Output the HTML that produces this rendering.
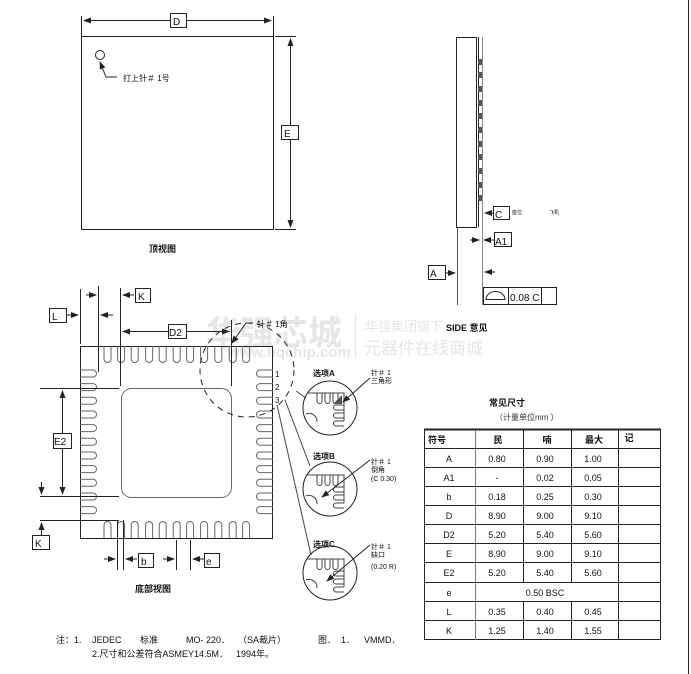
<!DOCTYPE html>
<html><head><meta charset="utf-8"><style>
html,body{margin:0;padding:0;background:#fff;}
svg{display:block;font-family:"Liberation Sans","Noto Sans CJK SC",sans-serif;}
</style></head><body>
<svg width="691" height="674" viewBox="0 0 691 674" xmlns="http://www.w3.org/2000/svg">
<defs>
<marker id="ar" markerWidth="8" markerHeight="6" refX="7" refY="3" orient="auto" markerUnits="userSpaceOnUse"><path d="M0,0 L8,3 L0,6 z" fill="#222"/></marker>
</defs>
<g fill="none" stroke="#222" stroke-width="1">
<!-- TOP VIEW -->
<rect x="81.5" y="36.5" width="192" height="193"/>
<line x1="81.5" y1="16" x2="81.5" y2="36"/><line x1="273.5" y1="16" x2="273.5" y2="36"/>
<line x1="170" y1="20.5" x2="84" y2="20.5" marker-end="url(#ar)"/>
<line x1="186" y1="20.5" x2="271" y2="20.5" marker-end="url(#ar)"/>
<rect x="170.5" y="13.5" width="16" height="14"/>
<line x1="275" y1="36.5" x2="296" y2="36.5"/><line x1="275" y1="229.5" x2="296" y2="229.5"/>
<line x1="290.5" y1="125" x2="290.5" y2="39" marker-end="url(#ar)"/>
<line x1="290.5" y1="139" x2="290.5" y2="227" marker-end="url(#ar)"/>
<rect x="281.5" y="125.5" width="17" height="14"/>
<circle cx="100" cy="55" r="4.5"/>
<polyline points="117,77 106,77 100,62" marker-end="url(#ar)"/>

<!-- SIDE VIEW -->
<rect x="456.5" y="37.5" width="20" height="190"/>
<line x1="478.5" y1="37" x2="478.5" y2="227"/>
<line x1="482.5" y1="37" x2="482.5" y2="305" stroke="#888"/>
<line x1="457.5" y1="228" x2="457.5" y2="305" stroke="#555"/>
<line x1="493" y1="213" x2="485" y2="213" marker-end="url(#ar)"/>
<line x1="470" y1="240" x2="479" y2="240" marker-end="url(#ar)"/>
<line x1="494" y1="240" x2="484" y2="240" marker-end="url(#ar)"/>
<line x1="445" y1="273" x2="455" y2="273" marker-end="url(#ar)"/>
<line x1="495" y1="272" x2="485" y2="272" marker-end="url(#ar)"/>
<rect x="493.5" y="206.5" width="16" height="13"/>
<rect x="494.5" y="232.5" width="17" height="14"/>
<rect x="428.5" y="265.5" width="17" height="14"/>
<rect x="483.5" y="287.5" width="73" height="17"/>
<line x1="508.5" y1="287" x2="508.5" y2="305"/><line x1="541.5" y1="287" x2="541.5" y2="305"/>
<path d="M486,299.5 L505,299.5 A9.5,8 0 0 0 486,299.5 z"/>
</g>
<g fill="#555">
<rect x="478" y="59" width="4" height="6"/><rect x="478" y="72" width="4" height="6"/><rect x="478" y="86" width="4" height="6"/><rect x="478" y="100" width="4" height="6"/><rect x="478" y="113" width="4" height="6"/><rect x="478" y="127" width="4" height="6"/><rect x="478" y="141" width="4" height="6"/><rect x="478" y="154" width="4" height="6"/><rect x="478" y="168" width="4" height="6"/><rect x="478" y="182" width="4" height="6"/><rect x="478" y="195" width="4" height="6"/>
</g>

<!-- watermark -->
<g fill="#e6e6e6">
<text x="206" y="345" font-size="34" font-weight="bold">华强芯城</text>
<text x="228" y="357" font-size="15" font-weight="bold">www.hqchip.com</text>
<text x="365" y="331" font-size="13">华强集团旗下</text>
<text x="364" y="354" font-size="17">元器件在线商城</text>
</g>
<line x1="355.5" y1="314" x2="355.5" y2="357" stroke="#e6e6e6"/>

<!-- BOTTOM VIEW -->
<g fill="none" stroke="#222" stroke-width="1">
<rect x="80.5" y="346.5" width="192" height="192"/>
<rect x="121.5" y="388.5" width="110" height="109" rx="10" stroke="#666"/>
</g>
<g fill="none" stroke="#666">
<g id="toprow">
<path d="M104,346 v13 a3.5,3.5 0 0 0 7,0 v-13"/><path d="M117.6,346 v13 a3.5,3.5 0 0 0 7,0 v-13"/><path d="M131.2,346 v13 a3.5,3.5 0 0 0 7,0 v-13"/><path d="M145.6,346 v13 a3.5,3.5 0 0 0 7,0 v-13"/><path d="M159.2,346 v13 a3.5,3.5 0 0 0 7,0 v-13"/><path d="M173.2,346 v13 a3.5,3.5 0 0 0 7,0 v-13"/><path d="M186.6,346 v13 a3.5,3.5 0 0 0 7,0 v-13"/><path d="M200.6,346 v13 a3.5,3.5 0 0 0 7,0 v-13"/><path d="M214.8,346 v13 a3.5,3.5 0 0 0 7,0 v-13"/><path d="M229.2,346 v13 a3.5,3.5 0 0 0 7,0 v-13"/><path d="M242.6,346 v13 a3.5,3.5 0 0 0 7,0 v-13"/>
</g>
<use href="#toprow" transform="translate(0,884) scale(1,-1)"/>
<g id="leftcol">
<path d="M80,370 h13 a3.5,3.5 0 0 1 0,7 h-13"/><path d="M80,383.6 h13 a3.5,3.5 0 0 1 0,7 h-13"/><path d="M80,397.2 h13 a3.5,3.5 0 0 1 0,7 h-13"/><path d="M80,411 h13 a3.5,3.5 0 0 1 0,7 h-13"/><path d="M80,424.6 h13 a3.5,3.5 0 0 1 0,7 h-13"/><path d="M80,438.2 h13 a3.5,3.5 0 0 1 0,7 h-13"/><path d="M80,452 h13 a3.5,3.5 0 0 1 0,7 h-13"/><path d="M80,465.6 h13 a3.5,3.5 0 0 1 0,7 h-13"/><path d="M80,479.2 h13 a3.5,3.5 0 0 1 0,7 h-13"/><path d="M80,493 h13 a3.5,3.5 0 0 1 0,7 h-13"/><path d="M80,506.6 h13 a3.5,3.5 0 0 1 0,7 h-13"/>
</g>
<use href="#leftcol" transform="translate(353,0) scale(-1,1)"/>
</g>
<g fill="none" stroke="#222">
<circle cx="247" cy="370" r="47" stroke-dasharray="6,5"/>
<line x1="80.5" y1="289" x2="80.5" y2="344"/>
<line x1="98.5" y1="286" x2="98.5" y2="372"/>
<line x1="120.5" y1="288" x2="120.5" y2="386"/>
<line x1="231.5" y1="320" x2="231.5" y2="386"/>
<line x1="66" y1="315" x2="78" y2="315" marker-end="url(#ar)"/>
<line x1="113" y1="315" x2="101" y2="315" marker-end="url(#ar)"/>
<line x1="86" y1="295" x2="96" y2="295" marker-end="url(#ar)"/>
<line x1="134" y1="295" x2="123" y2="295" marker-end="url(#ar)"/>
<line x1="168" y1="331.5" x2="123" y2="331.5" marker-end="url(#ar)"/>
<line x1="186" y1="331.5" x2="229" y2="331.5" marker-end="url(#ar)"/>
<line x1="40" y1="388.5" x2="119" y2="388.5"/>
<line x1="40" y1="496.5" x2="119" y2="496.5"/>
<line x1="40" y1="520.5" x2="119" y2="520.5"/>
<line x1="62.5" y1="433" x2="62.5" y2="391" marker-end="url(#ar)"/>
<line x1="62.5" y1="448" x2="62.5" y2="494" marker-end="url(#ar)"/>
<line x1="41.5" y1="482" x2="41.5" y2="494" marker-end="url(#ar)"/>
<line x1="41.5" y1="535" x2="41.5" y2="523" marker-end="url(#ar)"/>
<line x1="117.5" y1="520" x2="117.5" y2="570"/>
<line x1="123.5" y1="520" x2="123.5" y2="570"/>
<line x1="176.5" y1="540" x2="176.5" y2="570"/>
<line x1="190.5" y1="540" x2="190.5" y2="570"/>
<line x1="104" y1="559" x2="115" y2="559" marker-end="url(#ar)"/>
<line x1="137" y1="559" x2="126" y2="559" marker-end="url(#ar)"/>
<line x1="163" y1="559" x2="174" y2="559" marker-end="url(#ar)"/>
<line x1="204" y1="559" x2="193" y2="559" marker-end="url(#ar)"/>
<rect x="49.5" y="308.5" width="17" height="14"/>
<rect x="135.5" y="288.5" width="15" height="14"/>
<rect x="168.5" y="324.5" width="18" height="14"/>
<rect x="53.5" y="433.5" width="18" height="15"/>
<rect x="32.5" y="535.5" width="17" height="14"/>
<rect x="138.5" y="553.5" width="15" height="14"/>
<rect x="204.5" y="553.5" width="15" height="14"/>
<polyline points="253,323 246,323 232,343" marker-end="url(#ar)"/>
<line x1="296" y1="391" x2="306" y2="398" stroke="#444"/>
<line x1="285" y1="400" x2="310" y2="466" stroke="#444"/>
<line x1="277" y1="405" x2="311" y2="555" stroke="#444"/>
<circle cx="330" cy="408" r="27"/>
<circle cx="330" cy="489" r="27"/>
<circle cx="330" cy="573" r="27"/>
</g>
<g fill="none" stroke="#444">
<g id="det">
<path d="M307,393 h37 v28 M317,422 a8,8 0 0 0 -11,-8"/>
<path d="M317,393 v8 a2.5,2.5 0 0 0 5,0 v-8 M325,393 v8 a2.5,2.5 0 0 0 5,0 v-8 M333,393 v8 a2.5,2.5 0 0 0 5,0 v-8"/>
<path d="M344,405 h-8 a2.5,2.5 0 0 0 0,5 h8 M344,413 h-8 a2.5,2.5 0 0 0 0,5 h8 M344,421 h-8 a2.5,2.5 0 0 0 0,5 h8"/>
</g>
<use href="#det" transform="translate(0,82)"/>
<use href="#det" transform="translate(0,166)"/>
</g>
<path d="M342,395 v9 h-9 z" fill="#555"/>
<g stroke="#222" fill="none">
<line x1="370" y1="378" x2="343" y2="402" marker-end="url(#ar)"/>
<line x1="370" y1="460" x2="322" y2="497" marker-end="url(#ar)"/>
<line x1="370" y1="545" x2="327" y2="581" marker-end="url(#ar)"/>
</g>

<!-- TABLE -->
<g stroke="#222" fill="none">
<line x1="424" y1="429.5" x2="661" y2="429.5" stroke-width="2"/>
<rect x="424.5" y="429.5" width="236" height="210"/>
<line x1="475.5" y1="430" x2="475.5" y2="640" stroke="#777"/>
<line x1="523.5" y1="430" x2="523.5" y2="582"/><line x1="523.5" y1="601" x2="523.5" y2="640"/>
<line x1="571.5" y1="430" x2="571.5" y2="582"/><line x1="571.5" y1="601" x2="571.5" y2="640"/>
<line x1="618.5" y1="430" x2="618.5" y2="640"/>
<line x1="424" y1="448.5" x2="661" y2="448.5"/>
<line x1="424" y1="467.5" x2="661" y2="467.5"/>
<line x1="424" y1="486.5" x2="661" y2="486.5"/>
<line x1="424" y1="505.5" x2="661" y2="505.5"/>
<line x1="424" y1="524.5" x2="661" y2="524.5"/>
<line x1="424" y1="543.5" x2="661" y2="543.5"/>
<line x1="424" y1="562.5" x2="661" y2="562.5"/>
<line x1="424" y1="582.5" x2="661" y2="582.5"/>
<line x1="424" y1="601.5" x2="661" y2="601.5"/>
<line x1="424" y1="620.5" x2="661" y2="620.5"/>
<line x1="688.5" y1="0" x2="688.5" y2="674"/>
</g>

<g fill="#111" font-size="10">
<text x="173" y="25">D</text>
<text x="284" y="137">E</text>
<text x="123" y="81" font-size="8">打上针＃ 1号</text>
<text x="149" y="252" font-size="9" font-weight="bold">顶视图</text>
<text x="495" y="218">C</text>
<text x="512" y="214" font-size="5">座位</text>
<text x="549" y="214" font-size="5">飞机</text>
<text x="495" y="245">A1</text>
<text x="430" y="277">A</text>
<text x="510" y="301">0.08 C</text>
<text x="446" y="331" font-size="9" font-weight="bold">SIDE  意见</text>
<text x="52" y="320">L</text>
<text x="138" y="300">K</text>
<text x="169" y="336">D2</text>
<text x="54" y="445">E2</text>
<text x="35" y="547">K</text>
<text x="141" y="565">b</text>
<text x="206" y="565">e</text>
<text x="135" y="592" font-size="9" font-weight="bold">底部视图</text>
<text x="257" y="327" font-size="8">针＃ 1角</text>
<text x="275" y="377" font-size="8">1</text>
<text x="275" y="390" font-size="8">2</text>
<text x="275" y="403" font-size="8">3</text>
<text x="313" y="376" font-size="8" font-weight="bold">选项A</text>
<text x="371" y="375" font-size="7">针＃ 1</text>
<text x="371" y="383" font-size="7">三角形</text>
<text x="313" y="459" font-size="8" font-weight="bold">选项B</text>
<text x="371" y="464" font-size="7">针＃ 1</text>
<text x="371" y="472" font-size="7">倒角</text>
<text x="371" y="481" font-size="7">(C 0.30)</text>
<text x="313" y="547" font-size="8" font-weight="bold">选项C</text>
<text x="371" y="549" font-size="7">针＃ 1</text>
<text x="371" y="557" font-size="7">缺口</text>
<text x="371" y="569" font-size="7">(0.20 R)</text>
<text x="489" y="406" font-size="9" font-weight="bold">常见尺寸</text>
<text x="495" y="420" font-size="8" fill="#333">（计量单位mm ）</text>
<g font-size="9" text-anchor="middle">
<text x="437" y="443" font-weight="bold">符号</text><text x="498" y="443" font-weight="bold">民</text><text x="547" y="443" font-weight="bold">喃</text><text x="594" y="443" font-weight="bold">最大</text><text x="629" y="441" font-weight="bold">记</text>
<text x="449" y="462">A</text><text x="497" y="462">0.80</text><text x="545" y="462">0.90</text><text x="593" y="462">1.00</text>
<text x="449" y="481">A1</text><text x="497" y="481">-</text><text x="545" y="481">0.02</text><text x="593" y="481">0.05</text>
<text x="449" y="500">b</text><text x="497" y="500">0.18</text><text x="545" y="500">0.25</text><text x="593" y="500">0.30</text>
<text x="449" y="519">D</text><text x="497" y="519">8.90</text><text x="545" y="519">9.00</text><text x="593" y="519">9.10</text>
<text x="449" y="538">D2</text><text x="497" y="538">5.20</text><text x="545" y="538">5.40</text><text x="593" y="538">5.60</text>
<text x="449" y="557">E</text><text x="497" y="557">8.90</text><text x="545" y="557">9.00</text><text x="593" y="557">9.10</text>
<text x="449" y="576">E2</text><text x="497" y="576">5.20</text><text x="545" y="576">5.40</text><text x="593" y="576">5.60</text>
<text x="449" y="596">e</text><text x="545" y="596">0.50 BSC</text>
<text x="449" y="615">L</text><text x="497" y="615">0.35</text><text x="545" y="615">0.40</text><text x="593" y="615">0.45</text>
<text x="449" y="634">K</text><text x="497" y="634">1.25</text><text x="545" y="634">1.40</text><text x="593" y="634">1.55</text>
</g>
<g font-size="9">
<text x="56" y="643">注：1.</text>
<text x="92" y="643">JEDEC</text>
<text x="140" y="643">标准</text>
<text x="186" y="643">MO- 220．</text>
<text x="238" y="643">（SA裁片）</text>
<text x="318" y="643">图．</text>
<text x="341" y="643">1．</text>
<text x="364" y="643">VMMD．</text>
<text x="92" y="657">2.尺寸和公差符合ASMEY14.5M．</text>
<text x="236" y="657">1994年。</text>
</g>
</g>
</svg>
</body></html>
